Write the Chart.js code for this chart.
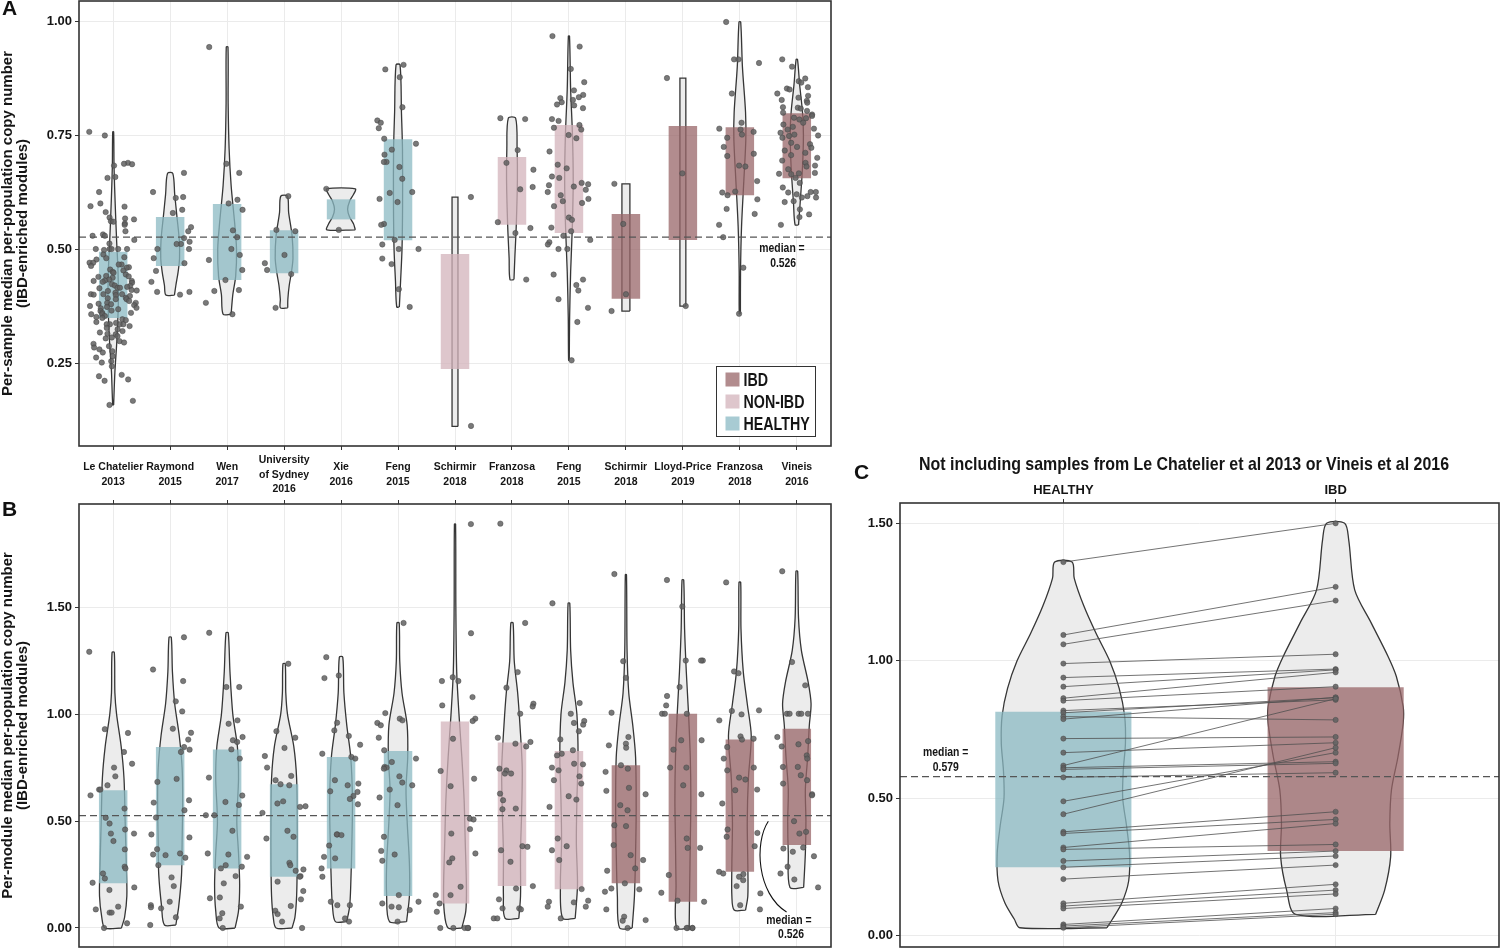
<!DOCTYPE html>
<html>
<head>
<meta charset="utf-8">
<script src="https://cdn.jsdelivr.net/npm/chart.js@4.4.1/dist/chart.umd.min.js"></script>
<style>
  body { margin: 0; background: #fff; width: 1500px; height: 949px; overflow: hidden; position: relative; }
  canvas { position: absolute; }
  .letter { position: absolute; font: bold 21px 'Liberation Sans', Arial, sans-serif; color: #111; z-index: 2; }
</style>
</head>
<body>
<div class="letter" style="left:2px;top:-4px">A</div>
<div class="letter" style="left:2px;top:497px">B</div>
<div class="letter" style="left:854px;top:460px">C</div>
<canvas id="chartA" width="840" height="495" style="left:0;top:0"></canvas>
<canvas id="chartB" width="840" height="454" style="left:0;top:495px"></canvas>
<canvas id="chartC" width="650" height="509" style="left:850px;top:440px"></canvas>
<script>
// ---- data ----
const studyLabels = [['Le Chatelier', '2013'], ['Raymond', '2015'], ['Wen', '2017'], ['University', 'of Sydney', '2016'],
    ['Xie', '2016'], ['Feng', '2015'], ['Schirmir', '2018'], ['Franzosa', '2018'], ['Feng', '2015'],
    ['Schirmir', '2018'], ['Lloyd-Price', '2019'], ['Franzosa', '2018'], ['Vineis', '2016']];
const studyGroups = ['HEALTHY', 'HEALTHY', 'HEALTHY', 'HEALTHY', 'HEALTHY', 'HEALTHY',
    'NON-IBD', 'NON-IBD', 'NON-IBD', 'IBD', 'IBD', 'IBD', 'IBD'];
const legendGroups = ['IBD', 'NON-IBD', 'HEALTHY'];

// panel A: per-sample medians
const sampleMedian = 0.526;
const sampleTicks = [0.25, 0.50, 0.75, 1.00];
const sampleQ1 = [0.349, 0.463, 0.432, 0.447, 0.565, 0.519, 0.237, 0.553, 0.535, 0.391, 0.520, 0.618, 0.655];
const sampleQ3 = [0.494, 0.570, 0.599, 0.541, 0.609, 0.741, 0.489, 0.702, 0.772, 0.577, 0.770, 0.767, 0.798];
const samplePoints = [
    [0.757, 0.749, 0.689, 0.687, 0.686, 0.683, 0.658, 0.656, 0.625, 0.600, 0.594, 0.593, 0.581, 0.569, 0.567, 0.565,
     0.561, 0.560, 0.556, 0.553, 0.539, 0.532, 0.529, 0.529, 0.520, 0.512, 0.500, 0.500, 0.500, 0.500, 0.500, 0.498,
     0.488, 0.482, 0.480, 0.477, 0.470, 0.470, 0.466, 0.466, 0.463, 0.460, 0.459, 0.455, 0.453, 0.450, 0.448, 0.444,
     0.441, 0.440, 0.439, 0.437, 0.433, 0.431, 0.430, 0.430, 0.428, 0.426, 0.423, 0.420, 0.419, 0.417, 0.415, 0.415,
     0.414, 0.410, 0.409, 0.408, 0.404, 0.401, 0.401, 0.401, 0.400, 0.399, 0.397, 0.393, 0.392, 0.390, 0.390, 0.386,
     0.382, 0.382, 0.380, 0.379, 0.377, 0.375, 0.373, 0.371, 0.370, 0.368, 0.365, 0.364, 0.360, 0.360, 0.357, 0.357,
     0.353, 0.351, 0.349, 0.346, 0.344, 0.340, 0.338, 0.335, 0.335, 0.335, 0.335, 0.331, 0.327, 0.324, 0.320, 0.317,
     0.314, 0.313, 0.309, 0.306, 0.304, 0.298, 0.295, 0.292, 0.287, 0.284, 0.280, 0.276, 0.273, 0.265, 0.262, 0.254,
     0.251, 0.243, 0.224, 0.221, 0.214, 0.211, 0.167, 0.158],
    [0.667, 0.625, 0.614, 0.612, 0.586, 0.579, 0.548, 0.539, 0.524, 0.516, 0.511, 0.511, 0.500, 0.500, 0.480, 0.469,
     0.452, 0.428, 0.406, 0.406, 0.400],
    [0.943, 0.687, 0.667, 0.608, 0.600, 0.586, 0.541, 0.526, 0.500, 0.487, 0.476, 0.454, 0.432, 0.410, 0.408, 0.382, 0.357],
    [0.616, 0.542, 0.539, 0.487, 0.469, 0.454, 0.445, 0.371],
    [0.632, 0.542],
    [0.904, 0.894, 0.877, 0.811, 0.782, 0.777, 0.765, 0.742, 0.731, 0.718, 0.707, 0.691, 0.691, 0.680, 0.654, 0.625,
     0.623, 0.610, 0.603, 0.555, 0.553, 0.520, 0.510, 0.500, 0.500, 0.479, 0.467, 0.412, 0.373],
    [0.614, 0.112],
    [0.787, 0.785, 0.717, 0.689, 0.674, 0.636, 0.631, 0.559, 0.546, 0.535, 0.433],
    [0.967, 0.944, 0.895, 0.866, 0.848, 0.838, 0.833, 0.831, 0.827, 0.822, 0.817, 0.815, 0.809, 0.785, 0.781, 0.772,
     0.766, 0.762, 0.750, 0.743, 0.714, 0.685, 0.677, 0.659, 0.656, 0.645, 0.642, 0.640, 0.637, 0.630, 0.625, 0.618,
     0.610, 0.605, 0.601, 0.594, 0.569, 0.564, 0.547, 0.539, 0.529, 0.520, 0.515, 0.510, 0.500, 0.500, 0.444, 0.433,
     0.421, 0.409, 0.390, 0.371, 0.340, 0.256],
    [0.643, 0.555, 0.401, 0.364],
    [0.875, 0.666, 0.375],
    [0.998, 0.916, 0.916, 0.908, 0.841, 0.777, 0.764, 0.762, 0.757, 0.751, 0.744, 0.724, 0.709, 0.704, 0.683, 0.681,
     0.649, 0.626, 0.624, 0.618, 0.609, 0.588, 0.577, 0.553, 0.526, 0.459, 0.358],
    [0.916, 0.900, 0.874, 0.868, 0.865, 0.855, 0.852, 0.850, 0.841, 0.836, 0.832, 0.827, 0.825, 0.821, 0.811, 0.810,
     0.808, 0.803, 0.799, 0.795, 0.792, 0.788, 0.787, 0.784, 0.777, 0.773, 0.768, 0.764, 0.762, 0.755, 0.751, 0.749,
     0.748, 0.744, 0.733, 0.730, 0.724, 0.722, 0.716, 0.711, 0.706, 0.700, 0.694, 0.689, 0.683, 0.681, 0.675, 0.667,
     0.666, 0.665, 0.664, 0.656, 0.645, 0.635, 0.625, 0.625, 0.624, 0.620, 0.616, 0.613, 0.613, 0.605, 0.603, 0.587,
     0.576, 0.570, 0.553]
];
// violin outlines: [value, half width in category units]
const sampleViolins = [
    [[0.757, 0.008], [0.68, 0.015], [0.60, 0.035], [0.52, 0.06], [0.45, 0.085], [0.38, 0.09], [0.30, 0.065], [0.23, 0.03], [0.158, 0.008]],
    [[0.666, 0.046], [0.62, 0.08], [0.57, 0.12], [0.52, 0.16], [0.48, 0.165], [0.45, 0.14], [0.42, 0.10], [0.399, 0.075]],
    [[0.943, 0.015], [0.82, 0.018], [0.72, 0.035], [0.64, 0.07], [0.56, 0.13], [0.50, 0.165], [0.44, 0.15], [0.40, 0.10], [0.357, 0.07]],
    [[0.616, 0.058], [0.58, 0.08], [0.53, 0.14], [0.48, 0.156], [0.45, 0.13], [0.42, 0.09], [0.39, 0.066], [0.371, 0.064]],
    [[0.632, 0.25], [0.62, 0.22], [0.605, 0.15], [0.587, 0.115], [0.57, 0.15], [0.555, 0.22], [0.542, 0.25]],
    [[0.904, 0.035], [0.80, 0.06], [0.72, 0.078], [0.60, 0.08], [0.50, 0.07], [0.43, 0.045], [0.373, 0.023]],
    [[0.614, 0.052], [0.111, 0.052]],
    [[0.787, 0.064], [0.72, 0.09], [0.65, 0.095], [0.55, 0.075], [0.48, 0.05], [0.433, 0.035]],
    [[0.967, 0.01], [0.85, 0.03], [0.75, 0.062], [0.65, 0.075], [0.55, 0.06], [0.45, 0.03], [0.35, 0.012], [0.256, 0.006]],
    [[0.643, 0.07], [0.364, 0.07]],
    [[0.875, 0.052], [0.375, 0.052]],
    [[0.998, 0.015], [0.90, 0.045], [0.80, 0.10], [0.74, 0.105], [0.65, 0.07], [0.55, 0.03], [0.45, 0.012], [0.358, 0.01]],
    [[0.916, 0.012], [0.86, 0.05], [0.80, 0.10], [0.75, 0.116], [0.68, 0.10], [0.60, 0.058], [0.553, 0.03]]
];

// panel B: per-module medians
const moduleMedian = 0.526;
const moduleTicks = [0.00, 0.50, 1.00, 1.50];
const moduleQ1 = [0.209, 0.294, 0.279, 0.240, 0.279, 0.150, 0.115, 0.196, 0.181, 0.209, 0.123, 0.263, 0.388];
const moduleQ3 = [0.645, 0.847, 0.836, 0.673, 0.801, 0.829, 0.967, 0.868, 0.829, 0.762, 1.003, 0.882, 0.933];
const modulePoints = [
    [1.293, 0.931, 0.913, 0.824, 0.769, 0.751, 0.710, 0.668, 0.648, 0.648, 0.621, 0.559, 0.516, 0.489, 0.461, 0.442,
     0.442, 0.407, 0.368, 0.287, 0.279, 0.255, 0.232, 0.212, 0.190, 0.178, 0.100, 0.087, 0.072, 0.072, 0.022, 0.000],
    [1.361, 1.210, 1.156, 1.061, 1.014, 0.933, 0.914, 0.882, 0.847, 0.835, 0.824, 0.698, 0.684, 0.598, 0.587, 0.551,
     0.517, 0.438, 0.424, 0.369, 0.349, 0.344, 0.341, 0.329, 0.294, 0.237, 0.196, 0.123, 0.107, 0.097, 0.092, 0.050, 0.014],
    [1.382, 1.128, 1.128, 0.972, 0.956, 0.894, 0.879, 0.871, 0.836, 0.793, 0.704, 0.620, 0.590, 0.576, 0.528, 0.528,
     0.455, 0.349, 0.344, 0.333, 0.294, 0.287, 0.279, 0.243, 0.209, 0.143, 0.139, 0.100, 0.069, 0.045, 0.000],
    [1.237, 0.921, 0.891, 0.843, 0.805, 0.751, 0.712, 0.692, 0.673, 0.668, 0.593, 0.583, 0.570, 0.567, 0.539, 0.455,
     0.427, 0.419, 0.305, 0.294, 0.274, 0.268, 0.243, 0.240, 0.217, 0.173, 0.134, 0.103, 0.081, 0.065, 0.030, 0.000],
    [1.268, 1.182, 1.170, 0.961, 0.925, 0.899, 0.858, 0.816, 0.801, 0.793, 0.692, 0.676, 0.668, 0.640, 0.637, 0.618,
     0.604, 0.579, 0.438, 0.438, 0.435, 0.386, 0.333, 0.326, 0.279, 0.240, 0.123, 0.107, 0.107, 0.045, 0.030],
    [1.428, 1.006, 0.980, 0.972, 0.960, 0.949, 0.891, 0.832, 0.793, 0.777, 0.754, 0.751, 0.746, 0.710, 0.681, 0.668,
     0.648, 0.611, 0.575, 0.427, 0.361, 0.344, 0.315, 0.154, 0.123, 0.115, 0.100, 0.097, 0.084, 0.030],
    [1.891, 1.380, 1.174, 1.156, 1.156, 1.081, 1.042, 0.980, 0.969, 0.886, 0.735, 0.699, 0.664, 0.512, 0.508, 0.463,
     0.442, 0.349, 0.326, 0.307, 0.193, 0.154, 0.154, 0.115, 0.076, 0.000, 0.000, 0.000, 0.000, 0.000],
    [1.893, 1.428, 1.198, 1.125, 1.050, 1.037, 1.003, 0.891, 0.871, 0.863, 0.850, 0.746, 0.738, 0.723, 0.723, 0.629,
     0.598, 0.559, 0.556, 0.383, 0.380, 0.364, 0.310, 0.196, 0.185, 0.134, 0.092, 0.092, 0.087, 0.045, 0.045],
    [1.520, 1.053, 1.003, 0.969, 0.960, 0.952, 0.921, 0.883, 0.832, 0.816, 0.808, 0.769, 0.766, 0.751, 0.738, 0.710,
     0.692, 0.676, 0.617, 0.601, 0.567, 0.419, 0.383, 0.364, 0.318, 0.182, 0.128, 0.123, 0.120, 0.100, 0.100, 0.045],
    [1.657, 1.249, 1.171, 1.008, 0.894, 0.863, 0.855, 0.844, 0.762, 0.746, 0.731, 0.656, 0.642, 0.626, 0.575, 0.551,
     0.481, 0.477, 0.388, 0.341, 0.318, 0.279, 0.268, 0.209, 0.185, 0.181, 0.170, 0.087, 0.053, 0.037, 0.034, 0.000],
    [1.629, 1.505, 1.252, 1.252, 1.252, 1.128, 1.086, 1.042, 1.003, 1.003, 1.003, 0.879, 0.879, 0.835, 0.751, 0.751,
     0.668, 0.626, 0.419, 0.375, 0.375, 0.248, 0.165, 0.128, 0.123, 0.000, 0.000, 0.000, 0.000, 0.000],
    [1.618, 1.201, 1.193, 1.019, 1.016, 1.000, 0.972, 0.897, 0.886, 0.882, 0.847, 0.793, 0.751, 0.738, 0.704, 0.695,
     0.648, 0.645, 0.583, 0.461, 0.445, 0.427, 0.383, 0.263, 0.255, 0.252, 0.240, 0.224, 0.196, 0.162, 0.107, 0.087],
    [1.670, 1.245, 1.136, 1.003, 1.003, 1.003, 1.003, 1.003, 0.894, 0.875, 0.860, 0.850, 0.808, 0.793, 0.754, 0.754,
     0.715, 0.692, 0.676, 0.626, 0.621, 0.500, 0.450, 0.442, 0.377, 0.372, 0.357, 0.336, 0.287, 0.255, 0.227, 0.190]
];
const moduleViolins = [
    [[1.29, 0.02], [1.1, 0.03], [1.0, 0.06], [0.85, 0.14], [0.7, 0.19], [0.5, 0.21], [0.3, 0.23], [0.15, 0.24], [0.05, 0.2], [0.0, 0.145]],
    [[1.361, 0.02], [1.2, 0.04], [1.05, 0.08], [0.9, 0.16], [0.75, 0.21], [0.6, 0.22], [0.4, 0.21], [0.25, 0.2], [0.1, 0.15], [0.014, 0.1]],
    [[1.382, 0.02], [1.2, 0.05], [1.0, 0.1], [0.85, 0.18], [0.7, 0.2], [0.5, 0.17], [0.35, 0.2], [0.2, 0.22], [0.08, 0.2], [0.0, 0.14]],
    [[1.237, 0.02], [1.1, 0.03], [1.0, 0.06], [0.85, 0.17], [0.7, 0.22], [0.5, 0.23], [0.3, 0.23], [0.15, 0.22], [0.05, 0.19], [0.0, 0.14]],
    [[1.268, 0.03], [1.1, 0.05], [0.95, 0.1], [0.8, 0.17], [0.6, 0.2], [0.4, 0.19], [0.2, 0.17], [0.1, 0.15], [0.03, 0.1]],
    [[1.428, 0.02], [1.25, 0.03], [1.1, 0.07], [0.95, 0.16], [0.8, 0.17], [0.65, 0.14], [0.5, 0.16], [0.3, 0.2], [0.15, 0.2], [0.03, 0.15]],
    [[1.891, 0.01], [1.5, 0.015], [1.2, 0.03], [1.0, 0.07], [0.8, 0.12], [0.6, 0.16], [0.4, 0.18], [0.2, 0.2], [0.08, 0.19], [0.0, 0.12]],
    [[1.428, 0.02], [1.25, 0.04], [1.1, 0.1], [0.95, 0.14], [0.75, 0.18], [0.55, 0.17], [0.35, 0.15], [0.15, 0.15], [0.045, 0.12]],
    [[1.52, 0.015], [1.3, 0.03], [1.15, 0.07], [1.0, 0.14], [0.8, 0.16], [0.6, 0.14], [0.4, 0.13], [0.2, 0.15], [0.045, 0.11]],
    [[1.654, 0.01], [1.3, 0.02], [1.1, 0.05], [0.95, 0.12], [0.8, 0.17], [0.55, 0.18], [0.35, 0.17], [0.15, 0.15], [0.0, 0.11]],
    [[1.629, 0.015], [1.4, 0.03], [1.2, 0.06], [1.0, 0.1], [0.8, 0.13], [0.6, 0.14], [0.4, 0.13], [0.2, 0.12], [0.0, 0.11]],
    [[1.618, 0.015], [1.4, 0.02], [1.2, 0.06], [1.05, 0.13], [0.9, 0.2], [0.7, 0.15], [0.5, 0.13], [0.3, 0.14], [0.15, 0.14], [0.084, 0.1]],
    [[1.67, 0.015], [1.45, 0.03], [1.3, 0.08], [1.15, 0.2], [1.05, 0.25], [0.95, 0.22], [0.8, 0.19], [0.65, 0.15], [0.5, 0.16], [0.35, 0.15], [0.19, 0.12]]
];

// panel C: paired samples, healthy vs IBD
const pairedLabels = ['HEALTHY', 'IBD'];
const pairedGroups = ['HEALTHY', 'IBD'];
const pairedMedian = 0.579;
const pairedTicks = [0.00, 0.50, 1.00, 1.50];
const pairedQ1 = [0.249, 0.308];
const pairedQ3 = [0.815, 0.904];
const pairedHealthy = [1.359, 1.094, 1.060, 0.990, 0.939, 0.906, 0.864, 0.855, 0.819, 0.811, 0.797, 0.788, 0.717,
    0.666, 0.619, 0.611, 0.605, 0.576, 0.489, 0.442, 0.378, 0.372, 0.321, 0.314, 0.272, 0.249, 0.206, 0.118, 0.108,
    0.099, 0.041, 0.035, 0.029];
const pairedIbd = [1.500, 1.269, 1.219, 1.024, 0.970, 0.967, 0.958, 0.906, 0.858, 0.866, 0.785, 0.867, 0.723,
    0.702, 0.862, 0.633, 0.627, 0.593, 0.666, 0.684, 0.451, 0.423, 0.408, 0.332, 0.308, 0.290, 0.257, 0.187, 0.166,
    0.152, 0.099, 0.084, 0.078];
const pairedViolins = [
    [[1.359, 0.032], [1.30, 0.04], [1.2, 0.075], [1.1, 0.12], [1.0, 0.17], [0.9, 0.205], [0.8, 0.225], [0.7, 0.228],
     [0.6, 0.22], [0.5, 0.218], [0.4, 0.232], [0.3, 0.243], [0.2, 0.24], [0.12, 0.215], [0.06, 0.18], [0.029, 0.16]],
    [[1.5, 0.033], [1.44, 0.048], [1.258, 0.07], [1.137, 0.131], [1.015, 0.193], [0.943, 0.223], [0.833, 0.248],
     [0.773, 0.248], [0.651, 0.229], [0.53, 0.205], [0.409, 0.199], [0.287, 0.202], [0.166, 0.18], [0.078, 0.147]]
];

// ---- styles ----
const FONT = "'Liberation Sans', Arial, sans-serif";
const INK = '#151515';
const boxColors = { 'IBD': 'rgba(152,102,104,0.75)', 'NON-IBD': 'rgba(211,179,187,0.75)', 'HEALTHY': 'rgba(139,186,195,0.75)' };
const swatchColors = { 'IBD': '#b28c8e', 'NON-IBD': '#dec6cc', 'HEALTHY': '#a8cbd3' };
const GRID = '#ebebeb';

Chart.defaults.font.family = FONT;
Chart.defaults.color = INK;

function violinData(center, profile) {
    const sorted = profile.slice().sort((a, b) => a[0] - b[0]);
    const right = sorted.map(p => ({ x: center + p[1], y: p[0] }));
    const left = sorted.slice().reverse().map(p => ({ x: center - p[1], y: p[0] }));
    return right.concat(left, [right[0]]);
}

// fixed pseudo jitter so the picture is the same each run
function jitter(i, g, width) {
    const s = Math.sin(i * 127.1 + g * 311.7) * 43758.5453;
    return ((s - Math.floor(s)) * 2 - 1) * width;
}

// narrow bold text, squeezed sideways like the condensed face of the original
function narrowText(ctx, text, x, y, squeeze) {
    ctx.save();
    ctx.translate(x, y);
    ctx.scale(squeeze, 1);
    ctx.fillText(text, 0, 0);
    ctx.restore();
}

function buildDatasets(cfg) {
    let ds = [];
    cfg.violins.forEach((prof, i) => {
        ds.push({
            type: 'line', data: violinData(i, prof), order: 5,
            borderColor: '#363636', borderWidth: 1.3, backgroundColor: '#ececec',
            fill: 'shape', pointRadius: 0, tension: prof.length > 2 ? 0.3 : 0
        });
    });
    ds.push({
        type: 'bar', order: 4,
        data: cfg.q1.map((v, i) => ({ x: i, y: [v, cfg.q3[i]] })),
        backgroundColor: cfg.groups.map(g => boxColors[g]),
        borderWidth: 0, barPercentage: 0.5, categoryPercentage: 1
    });
    ds.push({
        type: 'line', order: 2,
        data: [{ x: cfg.xMin, y: cfg.median }, { x: cfg.xMax, y: cfg.median }],
        borderColor: '#555', borderWidth: 1.3, borderDash: [7, 4], pointRadius: 0, fill: false
    });
    if (cfg.pairs) {
        cfg.pairs[0].forEach((h, i) => {
            ds.push({
                type: 'line', order: 1,
                data: [{ x: 0, y: h }, { x: 1, y: cfg.pairs[1][i] }],
                borderColor: 'rgba(80,80,80,0.8)', borderWidth: 1, pointRadius: 0, fill: false
            });
        });
        cfg.pairs.forEach((vals, g) => {
            ds.push({
                type: 'scatter', order: 0, data: vals.map(v => ({ x: g, y: v })),
                pointRadius: 2.6, pointBackgroundColor: 'rgba(100,100,100,0.9)',
                pointBorderColor: 'rgba(70,70,70,0.9)', pointBorderWidth: 0.5
            });
        });
    } else {
        cfg.points.forEach((vals, g) => {
            const w = g === 0 ? 0.42 : 0.38;
            ds.push({
                type: 'scatter', order: 0, data: vals.map((v, i) => ({ x: g + jitter(i, g, w), y: v })),
                pointRadius: 2.7, pointBackgroundColor: 'rgba(98,98,98,0.85)',
                pointBorderColor: 'rgba(65,65,65,0.9)', pointBorderWidth: 0.5
            });
        });
    }
    return ds;
}

function framePlugin(cfg) {
    return {
        id: 'frame',
        afterDatasetsDraw(chart) {
            const { ctx, chartArea: a, scales: { x, y } } = chart;
            ctx.save();
            ctx.strokeStyle = '#333';
            ctx.lineWidth = 1.6;
            ctx.strokeRect(a.left, a.top, a.right - a.left, a.bottom - a.top);
            ctx.fillStyle = INK;
            ctx.textAlign = 'center';
            ctx.textBaseline = 'middle';
            ctx.font = "bold 13px " + FONT;
            (cfg.notes || []).forEach(n => narrowText(ctx, n.text, x.getPixelForValue(n.x), y.getPixelForValue(n.y), 0.8));
            if (cfg.curve) {
                const c = cfg.curve.map(p => [x.getPixelForValue(p[0]), y.getPixelForValue(p[1])]);
                ctx.strokeStyle = '#111';
                ctx.lineWidth = 1.1;
                ctx.beginPath();
                ctx.moveTo(c[0][0], c[0][1]);
                ctx.bezierCurveTo(c[1][0], c[1][1], c[2][0], c[2][1], c[3][0], c[3][1]);
                ctx.stroke();
            }
            if (cfg.legend) {
                const lx = a.right - 114.5, ly = a.bottom - 79.5;
                ctx.fillStyle = '#fff';
                ctx.fillRect(lx, ly, 99, 70);
                ctx.strokeStyle = '#333';
                ctx.lineWidth = 1;
                ctx.strokeRect(lx, ly, 99, 70);
                ctx.textAlign = 'left';
                ctx.font = "bold 19px " + FONT;
                legendGroups.forEach((g, i) => {
                    const cy = ly + 13 + i * 22;
                    ctx.fillStyle = swatchColors[g];
                    ctx.fillRect(lx + 9, cy - 7, 14, 14);
                    ctx.fillStyle = INK;
                    narrowText(ctx, g, lx + 27, cy + 1, 0.75);
                });
            }
            if (cfg.title) {
                ctx.textAlign = 'center';
                ctx.font = "bold 19px " + FONT;
                ctx.fillStyle = INK;
                narrowText(ctx, cfg.title, 334, a.top - 38, 0.84);
            }
            ctx.restore();
        }
    };
}

function noScalePadding(s) {
    s.paddingTop = 0;
    s.paddingBottom = 0;
    s.paddingLeft = 0;
    s.paddingRight = 0;
}

function makeChart(id, cfg) {
    const tickFont = { size: 13, weight: 'bold' };
    return new Chart(document.getElementById(id), {
        type: 'scatter',
        data: { datasets: buildDatasets(cfg) },
        options: {
            responsive: false,
            animation: false,
            events: [],
            layout: { padding: cfg.padding, autoPadding: false },
            plugins: { legend: { display: false }, tooltip: { enabled: false } },
            scales: {
                x: {
                    type: 'linear', position: cfg.xPos, min: cfg.xMin, max: cfg.xMax, offset: false,
                    afterBuildTicks: s => { s.ticks = cfg.xLabels.map((_, i) => ({ value: i })); },
                    afterFit: s => { s.height = cfg.xHeight; noScalePadding(s); },
                    ticks: {
                        display: cfg.xShowLabels, autoSkip: false, maxRotation: 0, minRotation: 0, padding: cfg.xPad,
                        crossAlign: 'center', color: INK, font: cfg.xFont,
                        callback: v => cfg.xLabels[Math.round(v)]
                    },
                    grid: { color: GRID, lineWidth: 1, offset: false, drawTicks: true, tickLength: 4, tickColor: '#333' },
                    border: { display: false }
                },
                y: {
                    type: 'linear', min: cfg.yMin, max: cfg.yMax, beginAtZero: false,
                    afterBuildTicks: s => { s.ticks = cfg.yTicks.map(v => ({ value: v })); },
                    afterFit: s => { s.width = cfg.yWidth; noScalePadding(s); },
                    ticks: { padding: 3, color: INK, font: tickFont, callback: v => v.toFixed(2) },
                    grid: { color: GRID, lineWidth: 1, drawTicks: true, tickLength: 4, tickColor: '#333' },
                    border: { display: false },
                    title: {
                        display: !!cfg.yTitle, text: cfg.yTitle, color: INK,
                        font: { size: 15, weight: 'bold', lineHeight: 1.0 }, padding: { top: 0, bottom: 0 }
                    }
                }
            }
        },
        plugins: [framePlugin(cfg)]
    });
}

makeChart('chartA', {
    violins: sampleViolins, q1: sampleQ1, q3: sampleQ3, groups: studyGroups, points: samplePoints,
    median: sampleMedian, xMin: -0.6, xMax: 12.6, yMin: 0.068, yMax: 1.044, yTicks: sampleTicks,
    xLabels: studyLabels, xPos: 'bottom', xShowLabels: true, xHeight: 49, xPad: 10,
    xFont: { size: 10.5, weight: 'bold', lineHeight: 1.4 },
    yWidth: 79, padding: { top: 1, right: 9, bottom: 0, left: 0 },
    yTitle: ['Per-sample median per-population copy number', '(IBD-enriched modules)'],
    notes: [{ text: 'median =', x: 11.74, y: 0.502 }, { text: '0.526', x: 11.76, y: 0.469 }],
    legend: true
});

makeChart('chartB', {
    violins: moduleViolins, q1: moduleQ1, q3: moduleQ3, groups: studyGroups, points: modulePoints,
    median: moduleMedian, xMin: -0.6, xMax: 12.6, yMin: -0.089, yMax: 1.985, yTicks: moduleTicks,
    xLabels: studyLabels, xPos: 'top', xShowLabels: false, xHeight: 9, xPad: 0, xFont: { size: 12, weight: 'bold' },
    yWidth: 79, padding: { top: 0, right: 9, bottom: 2, left: 0 },
    yTitle: ['Per-module median per-population copy number', '(IBD-enriched modules)'],
    notes: [{ text: 'median =', x: 11.86, y: 0.037 }, { text: '0.526', x: 11.9, y: -0.028 }],
    curve: [[11.5, 0.50], [11.25, 0.40], [11.3, 0.16], [11.82, 0.075]]
});

makeChart('chartC', {
    violins: pairedViolins, q1: pairedQ1, q3: pairedQ3, groups: pairedGroups, pairs: [pairedHealthy, pairedIbd],
    median: pairedMedian, xMin: -0.6, xMax: 1.6, yMin: -0.041, yMax: 1.574, yTicks: pairedTicks,
    xLabels: pairedLabels, xPos: 'top', xShowLabels: true, xHeight: 22, xPad: 9, xFont: { size: 13, weight: 'bold' },
    yWidth: 50, padding: { top: 41, right: 1, bottom: 2, left: 0 },
    notes: [{ text: 'median =', x: -0.432, y: 0.665 }, { text: '0.579', x: -0.432, y: 0.612 }],
    title: 'Not including samples from Le Chatelier et al 2013 or Vineis et al 2016'
});
</script>
</body>
</html>
